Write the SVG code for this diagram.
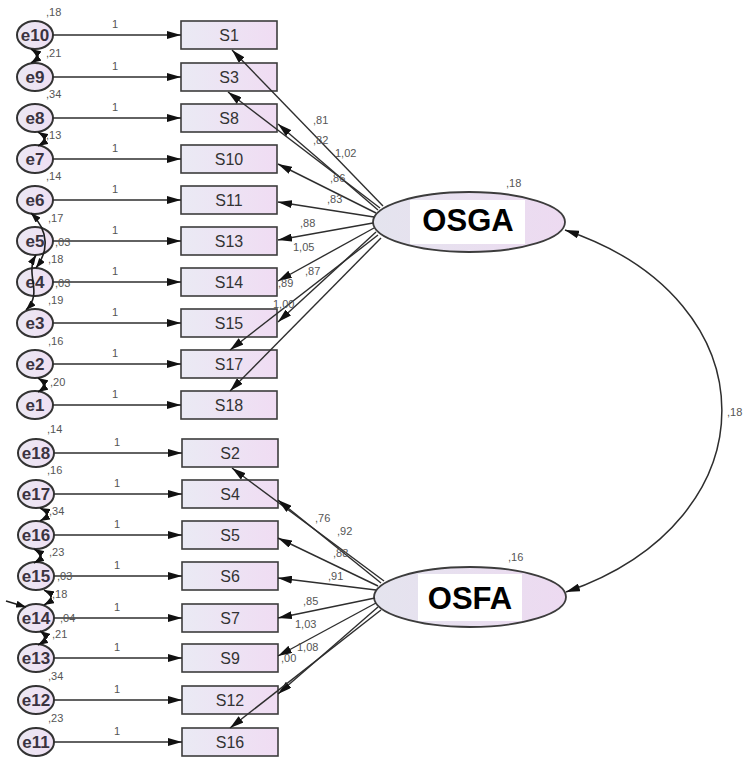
<svg xmlns="http://www.w3.org/2000/svg" width="745" height="761" viewBox="0 0 745 761">
<style>
.bg{fill:#ffffff}
.box{fill:url(#boxg);stroke:#3c3c3c;stroke-width:1.6}
.err{fill:url(#errg);stroke:#333333;stroke-width:2}
.lat{fill:url(#latg);stroke:#3c3c3c;stroke-width:1.8}
.bt{font-family:"Liberation Sans",Arial,sans-serif;font-size:16px;fill:#333333;text-anchor:middle}
.et{font-family:"Liberation Sans",Arial,sans-serif;font-size:17px;font-weight:bold;fill:#3a3340;text-anchor:middle}
.lt{font-family:"Liberation Sans",Arial,sans-serif;font-size:31px;font-weight:bold;fill:#000000;text-anchor:middle}
.sm{font-family:"Liberation Sans",Arial,sans-serif;font-size:11px;fill:#555555}
.ar{fill:none;stroke:#2e2e2e;stroke-width:1.4;marker-end:url(#ah)}
.cv{fill:none;stroke:#1e1e1e;stroke-width:1.6;marker-end:url(#sh);marker-start:url(#sh)}
.cvl{fill:none;stroke:#2e2e2e;stroke-width:1.5;marker-end:url(#ah);marker-start:url(#ah)}
</style>
<defs>
<linearGradient id="boxg" x1="0" y1="0" x2="1" y2="0"><stop offset="0" stop-color="#eaeaf4"/><stop offset="1" stop-color="#f0dcf3"/></linearGradient>
<linearGradient id="errg" x1="0" y1="0" x2="1" y2="0"><stop offset="0" stop-color="#ebe8f3"/><stop offset="1" stop-color="#efdff3"/></linearGradient>
<linearGradient id="latg" x1="0" y1="0" x2="1" y2="0"><stop offset="0" stop-color="#e4e4ee"/><stop offset="1" stop-color="#eddaf1"/></linearGradient>
<marker id="ah" viewBox="0 0 14 8" refX="14" refY="4" markerWidth="14" markerHeight="8" markerUnits="userSpaceOnUse" orient="auto-start-reverse"><path d="M0,0 L14,4 L0,8 z" fill="#111111"/></marker>
<marker id="sh" viewBox="0 0 10 7" refX="10" refY="3.5" markerWidth="10" markerHeight="7" markerUnits="userSpaceOnUse" orient="auto-start-reverse"><path d="M0,0 L10,3.5 L0,7 z" fill="#111111"/></marker>
</defs>
<rect class="bg" x="0" y="0" width="745" height="761"/>

<!-- observed variables -->
<g id="S1"><rect class="box" x="181" y="21" width="96" height="28"/><text class="bt" x="229" y="41">S1</text></g>
<g id="S3"><rect class="box" x="181" y="63" width="96" height="28"/><text class="bt" x="229" y="83">S3</text></g>
<g id="S8"><rect class="box" x="181" y="104" width="96" height="28"/><text class="bt" x="229" y="124">S8</text></g>
<g id="S10"><rect class="box" x="181" y="145" width="96" height="28"/><text class="bt" x="229" y="165">S10</text></g>
<g id="S11"><rect class="box" x="181" y="186" width="96" height="28"/><text class="bt" x="229" y="206">S11</text></g>
<g id="S13"><rect class="box" x="181" y="227" width="96" height="28"/><text class="bt" x="229" y="247">S13</text></g>
<g id="S14"><rect class="box" x="181" y="268" width="96" height="28"/><text class="bt" x="229" y="288">S14</text></g>
<g id="S15"><rect class="box" x="181" y="309" width="96" height="28"/><text class="bt" x="229" y="329">S15</text></g>
<g id="S17"><rect class="box" x="181" y="350" width="96" height="28"/><text class="bt" x="229" y="370">S17</text></g>
<g id="S18"><rect class="box" x="181" y="391" width="96" height="28"/><text class="bt" x="229" y="411">S18</text></g>
<g id="S2"><rect class="box" x="182" y="439" width="96" height="28"/><text class="bt" x="230" y="459">S2</text></g>
<g id="S4"><rect class="box" x="182" y="480" width="96" height="28"/><text class="bt" x="230" y="500">S4</text></g>
<g id="S5"><rect class="box" x="182" y="521" width="96" height="28"/><text class="bt" x="230" y="541">S5</text></g>
<g id="S6"><rect class="box" x="182" y="562" width="96" height="28"/><text class="bt" x="230" y="582">S6</text></g>
<g id="S7"><rect class="box" x="182" y="604" width="96" height="28"/><text class="bt" x="230" y="624">S7</text></g>
<g id="S9"><rect class="box" x="182" y="644" width="96" height="28"/><text class="bt" x="230" y="664">S9</text></g>
<g id="S12"><rect class="box" x="182" y="686" width="96" height="28"/><text class="bt" x="230" y="706">S12</text></g>
<g id="S16"><rect class="box" x="182" y="728" width="96" height="28"/><text class="bt" x="230" y="748">S16</text></g>

<!-- error terms -->
<g id="e10"><ellipse class="err" cx="35" cy="35" rx="18" ry="14"/><text class="et" x="35" y="41">e10</text><text class="sm" x="46" y="16">,18</text></g>
<g id="e9"><ellipse class="err" cx="35" cy="77" rx="18" ry="14"/><text class="et" x="35" y="83">e9</text><text class="sm" x="46" y="57">,21</text></g>
<g id="e8"><ellipse class="err" cx="35" cy="118" rx="18" ry="14"/><text class="et" x="35" y="124">e8</text><text class="sm" x="46" y="98">,34</text></g>
<g id="e7"><ellipse class="err" cx="35" cy="159" rx="18" ry="14"/><text class="et" x="35" y="165">e7</text><text class="sm" x="46" y="139">,13</text></g>
<g id="e6"><ellipse class="err" cx="35" cy="200" rx="18" ry="14"/><text class="et" x="35" y="206">e6</text><text class="sm" x="46" y="180">,14</text></g>
<g id="e5"><ellipse class="err" cx="35" cy="241" rx="18" ry="14"/><text class="et" x="35" y="247">e5</text><text class="sm" x="48" y="222">,17</text></g>
<g id="e4"><ellipse class="err" cx="35" cy="282" rx="18" ry="14"/><text class="et" x="35" y="288">e4</text><text class="sm" x="48" y="263">,18</text></g>
<g id="e3"><ellipse class="err" cx="35" cy="323" rx="18" ry="14"/><text class="et" x="35" y="329">e3</text><text class="sm" x="48" y="304">,19</text></g>
<g id="e2"><ellipse class="err" cx="35" cy="364" rx="18" ry="14"/><text class="et" x="35" y="370">e2</text><text class="sm" x="48" y="345">,16</text></g>
<g id="e1"><ellipse class="err" cx="35" cy="405" rx="18" ry="14"/><text class="et" x="35" y="411">e1</text><text class="sm" x="50" y="386">,20</text></g>
<g id="e18"><ellipse class="err" cx="36" cy="453" rx="18" ry="14"/><text class="et" x="36" y="459">e18</text><text class="sm" x="47" y="433">,14</text></g>
<g id="e17"><ellipse class="err" cx="36" cy="494" rx="18" ry="14"/><text class="et" x="36" y="500">e17</text><text class="sm" x="47" y="474">,16</text></g>
<g id="e16"><ellipse class="err" cx="36" cy="535" rx="18" ry="14"/><text class="et" x="36" y="541">e16</text><text class="sm" x="49" y="515">,34</text></g>
<g id="e15"><ellipse class="err" cx="36" cy="576" rx="18" ry="14"/><text class="et" x="36" y="582">e15</text><text class="sm" x="49" y="556">,23</text></g>
<g id="e14"><ellipse class="err" cx="36" cy="618" rx="18" ry="14"/><text class="et" x="36" y="624">e14</text><text class="sm" x="52" y="598">,18</text></g>
<g id="e13"><ellipse class="err" cx="36" cy="658" rx="18" ry="14"/><text class="et" x="36" y="664">e13</text><text class="sm" x="52" y="638">,21</text></g>
<g id="e12"><ellipse class="err" cx="36" cy="700" rx="18" ry="14"/><text class="et" x="36" y="706">e12</text><text class="sm" x="48" y="680">,34</text></g>
<g id="e11"><ellipse class="err" cx="36" cy="742" rx="18" ry="14"/><text class="et" x="36" y="748">e11</text><text class="sm" x="48" y="722">,23</text></g>

<!-- latent variables -->
<g id="OSGA"><ellipse class="lat" cx="469" cy="222" rx="96" ry="30"/><rect x="410" y="200" width="115" height="44" fill="#ffffff"/><text class="lt" x="468" y="231">OSGA</text><text class="sm" x="506" y="187">,18</text></g>
<g id="OSFA"><ellipse class="lat" cx="470" cy="597" rx="96" ry="30"/><rect x="418" y="574" width="104" height="47" fill="#ffffff"/><text class="lt" x="470" y="609">OSFA</text><text class="sm" x="508" y="561">,16</text></g>

<!-- connectors -->
<g id="connectors">
<!-- error paths -->
<line class="ar" x1="53" y1="35" x2="181" y2="35"/>
<line class="ar" x1="53" y1="77" x2="181" y2="77"/>
<line class="ar" x1="53" y1="118" x2="181" y2="118"/>
<line class="ar" x1="53" y1="159" x2="181" y2="159"/>
<line class="ar" x1="53" y1="200" x2="181" y2="200"/>
<line class="ar" x1="53" y1="241" x2="181" y2="241"/>
<line class="ar" x1="53" y1="282" x2="181" y2="282"/>
<line class="ar" x1="53" y1="323" x2="181" y2="323"/>
<line class="ar" x1="53" y1="364" x2="181" y2="364"/>
<line class="ar" x1="53" y1="405" x2="181" y2="405"/>
<line class="ar" x1="54" y1="453" x2="182" y2="453"/>
<line class="ar" x1="54" y1="494" x2="182" y2="494"/>
<line class="ar" x1="54" y1="535" x2="182" y2="535"/>
<line class="ar" x1="54" y1="576" x2="182" y2="576"/>
<line class="ar" x1="54" y1="618" x2="182" y2="618"/>
<line class="ar" x1="54" y1="658" x2="182" y2="658"/>
<line class="ar" x1="54" y1="700" x2="182" y2="700"/>
<line class="ar" x1="54" y1="742" x2="182" y2="742"/>
<g class="sm">
<text x="112" y="28">1</text><text x="112" y="70">1</text><text x="112" y="111">1</text><text x="112" y="152">1</text><text x="112" y="193">1</text>
<text x="112" y="234">1</text><text x="112" y="275">1</text><text x="112" y="316">1</text><text x="112" y="357">1</text><text x="112" y="398">1</text>
<text x="114" y="446">1</text><text x="114" y="487">1</text><text x="114" y="528">1</text><text x="114" y="569">1</text><text x="114" y="611">1</text>
<text x="114" y="651">1</text><text x="114" y="693">1</text><text x="114" y="735">1</text>
</g>
<!-- error covariances -->
<path class="cv" d="M31,49 Q42,56 31,63"/>
<path class="cv" d="M38,132 Q50,139 38,146"/>
<path class="cv" d="M31,213 C50,232 48,252 36,268"/>
<path class="cv" d="M36,255 C24,275 44,292 26,310"/>
<path class="cv" d="M38,378 Q49,385 38,392"/>
<path class="cv" d="M40,508 Q53,514 40,521"/>
<path class="cv" d="M34,549 Q46,556 34,563"/>
<path class="cv" d="M44,590 Q58,597 44,605"/>
<path class="cv" d="M40,631 Q50,638 38,645"/>
<path fill="none" stroke="#1e1e1e" stroke-width="1.6" marker-end="url(#sh)" d="M6,601 L26,607"/>
<text class="sm" x="55" y="246">,03</text>
<text class="sm" x="55" y="287">,03</text>
<text class="sm" x="57" y="580">,03</text>
<text class="sm" x="60" y="622">,04</text>
<!-- OSGA loadings -->
<line class="ar" x1="383" y1="206" x2="232" y2="50"/>
<line class="ar" x1="380" y1="208" x2="228" y2="92"/>
<line class="ar" x1="378" y1="210" x2="278" y2="124"/>
<line class="ar" x1="376" y1="213" x2="278" y2="164"/>
<line class="ar" x1="374" y1="217" x2="278" y2="202"/>
<line class="ar" x1="373" y1="223" x2="278" y2="240"/>
<line class="ar" x1="374" y1="228" x2="278" y2="281"/>
<line class="ar" x1="376" y1="232" x2="278" y2="322"/>
<line class="ar" x1="378" y1="235" x2="230" y2="350"/>
<line class="ar" x1="381" y1="238" x2="230" y2="391"/>
<text class="sm" x="313" y="124">,81</text>
<text class="sm" x="313" y="144">,82</text>
<text class="sm" x="335" y="157">1,02</text>
<text class="sm" x="330" y="182">,86</text>
<text class="sm" x="327" y="203">,83</text>
<text class="sm" x="300" y="227">,88</text>
<text class="sm" x="293" y="251">1,05</text>
<text class="sm" x="305" y="275">,87</text>
<text class="sm" x="278" y="287">,89</text>
<text class="sm" x="273" y="308">1,00</text>
<!-- OSFA loadings -->
<line class="ar" x1="384" y1="581" x2="232" y2="468"/>
<line class="ar" x1="381" y1="583" x2="278" y2="500"/>
<line class="ar" x1="378" y1="586" x2="278" y2="538"/>
<line class="ar" x1="376" y1="590" x2="278" y2="578"/>
<line class="ar" x1="375" y1="598" x2="278" y2="618"/>
<line class="ar" x1="376" y1="603" x2="278" y2="656"/>
<line class="ar" x1="378" y1="607" x2="278" y2="694"/>
<line class="ar" x1="381" y1="610" x2="230" y2="728"/>
<text class="sm" x="315" y="522">,76</text>
<text class="sm" x="337" y="535">,92</text>
<text class="sm" x="333" y="557">,88</text>
<text class="sm" x="328" y="580">,91</text>
<text class="sm" x="303" y="605">,85</text>
<text class="sm" x="295" y="628">1,03</text>
<text class="sm" x="297" y="651">1,08</text>
<text class="sm" x="281" y="662">,00</text>
<!-- factor covariance -->
<path class="cvl" d="M565,230 C774,300 774,520 566,592"/>
<text class="sm" x="727" y="416">,18</text>
</g>
</svg>
